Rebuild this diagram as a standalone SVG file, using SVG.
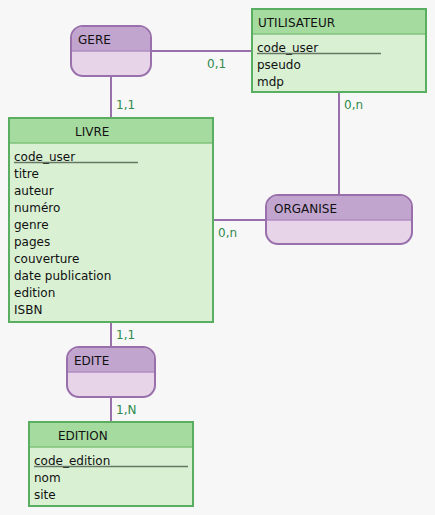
<svg xmlns="http://www.w3.org/2000/svg" width="435" height="515" viewBox="0 0 435 515">
<style>
text{font-family:"DejaVu Sans",Verdana,sans-serif;font-size:12px;fill:#111}
.eb{fill:#d9f0d3;stroke:#5aae61;stroke-width:2}
.eh{fill:#a6dba0}
.ed{stroke:#7fc27a;stroke-width:1.5}
.ab{fill:#e7d4e8;stroke:#9970ab;stroke-width:2}
.ah{fill:#c2a5cf}
.ad{stroke:#b08cc0;stroke-width:1.5}
.ul{stroke:#667766;stroke-width:1.5}
.lk{stroke:#9970ab;stroke-width:2;fill:none}
.card{fill:#2f8a4c}
</style>
<rect width="435" height="515" fill="#f7f7f7"/>
<g id="connectors">
<line class="lk" x1="151" y1="51" x2="252" y2="51"/>
<line class="lk" x1="111" y1="76" x2="111" y2="118"/>
<line class="lk" x1="339" y1="92" x2="339" y2="195"/>
<line class="lk" x1="213" y1="220" x2="266" y2="220"/>
<line class="lk" x1="111" y1="322" x2="111" y2="347"/>
<line class="lk" x1="111" y1="397" x2="111" y2="422"/>
<text class="card" x="207" y="68">0,1</text>
<text class="card" x="116" y="109">1,1</text>
<text class="card" x="344" y="109">0,n</text>
<text class="card" x="218" y="237">0,n</text>
<text class="card" x="116" y="339">1,1</text>
<text class="card" x="116" y="414">1,N</text>
</g>
<g id="utilisateur">
<rect class="eb" x="252" y="9" width="174" height="83"/>
<rect class="eh" x="253" y="10" width="172" height="24"/>
<line class="ed" x1="253" y1="34" x2="425" y2="34"/>
<text x="258" y="27">UTILISATEUR</text>
<text x="257" y="52">code_user</text>
<line class="ul" x1="257" y1="53.5" x2="381" y2="53.5"/>
<text x="257" y="69">pseudo</text>
<text x="257" y="86">mdp</text>
</g>
<g id="gere">
<rect class="ab" x="71" y="26" width="80" height="50" rx="12"/>
<path class="ah" d="M72 51V38a11 11 0 0 1 11-11h56a11 11 0 0 1 11 11v13z"/>
<line class="ad" x1="72" y1="51" x2="150" y2="51"/>
<text x="78" y="44">GERE</text>
</g>
<g id="livre">
<rect class="eb" x="9" y="118" width="204" height="204"/>
<rect class="eh" x="10" y="119" width="202" height="24"/>
<line class="ed" x1="10" y1="143" x2="212" y2="143"/>
<text x="75" y="136">LIVRE</text>
<text x="14" y="161">code_user</text>
<line class="ul" x1="14" y1="162.5" x2="138" y2="162.5"/>
<text x="14" y="178">titre</text>
<text x="14" y="195">auteur</text>
<text x="14" y="212">numéro</text>
<text x="14" y="229">genre</text>
<text x="14" y="246">pages</text>
<text x="14" y="263">couverture</text>
<text x="14" y="280">date publication</text>
<text x="14" y="297">edition</text>
<text x="14" y="314">ISBN</text>
</g>
<g id="organise">
<rect class="ab" x="266" y="195" width="146" height="49" rx="12"/>
<path class="ah" d="M267 220V207a11 11 0 0 1 11-11h122a11 11 0 0 1 11 11v13z"/>
<line class="ad" x1="267" y1="220" x2="411" y2="220"/>
<text x="274" y="213">ORGANISE</text>
</g>
<g id="edite">
<rect class="ab" x="67" y="347" width="88" height="50" rx="12"/>
<path class="ah" d="M68 372V359a11 11 0 0 1 11-11h64a11 11 0 0 1 11 11v13z"/>
<line class="ad" x1="68" y1="372" x2="154" y2="372"/>
<text x="74" y="365">EDITE</text>
</g>
<g id="edition">
<rect class="eb" x="29" y="422" width="164" height="84"/>
<rect class="eh" x="30" y="423" width="162" height="24"/>
<line class="ed" x1="30" y1="447" x2="192" y2="447"/>
<text x="58" y="440">EDITION</text>
<text x="34" y="465">code_edition</text>
<line class="ul" x1="34" y1="466.5" x2="188" y2="466.5"/>
<text x="34" y="482">nom</text>
<text x="34" y="499">site</text>
</g>
</svg>
